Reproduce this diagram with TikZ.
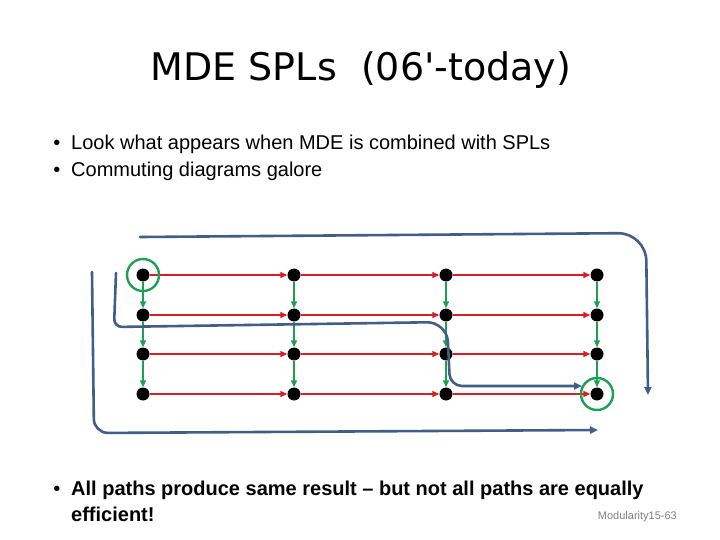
\documentclass[tikz,border=0pt]{standalone}
\usepackage{fontspec}
\setmainfont{Liberation Sans}
\newfontfamily\titlefont{DejaVu Sans}
\usetikzlibrary{arrows.meta}
\definecolor{routeblue}{RGB}{64,94,134}
\definecolor{arrowred}{RGB}{214,30,36}
\definecolor{arrowgreen}{RGB}{30,160,84}

\begin{document}
\begin{tikzpicture}[x=1pt,y=-1pt,
    dot/.style={circle,fill=black,inner sep=0pt,minimum size=13pt},
    redarrow/.style={draw=arrowred,line width=1.4pt,-{Triangle[length=7pt,width=6pt]}},
    greenarrow/.style={draw=arrowgreen,line width=1.6pt,-{Triangle[length=7pt,width=6pt]}},
    ring/.style={circle,draw=arrowgreen,line width=2.4pt,minimum size=32pt,inner sep=0pt},
    route/.style={draw=routeblue,line width=2.6pt,line cap=round,-{Triangle[length=8pt,width=7pt]}},
    txt/.style={anchor=base west,inner sep=0pt,font=\fontsize{20}{24}\selectfont}]
    \useasboundingbox (0,0) rectangle (720,540);
    % Overskrift og punkter
    \node[anchor=base,inner sep=0pt,font=\titlefont\fontsize{38}{44}\selectfont] (title) at (361,81) {MDE SPLs\ \ (06'-today)};
    \node[txt] (b1) at (71,150) {Look what appears when MDE is combined with SPLs};
    \node[txt] (b2) at (71,177) {Commuting diagrams galore};
    \node[txt,font=\fontsize{20}{24}\selectfont\bfseries] (b3) at (71,495) {All paths produce same result -- but not all paths are equally};
    \node[txt,font=\fontsize{20}{24}\selectfont\bfseries] (b4) at (71,521) {efficient!};
    \foreach \b in {b1,b2,b3}
      \node[anchor=base,inner sep=0pt,font=\fontsize{20}{24}\selectfont] at ([xshift=-14pt]\b.base west) {\textbullet};
    \node[anchor=base east,inner sep=0pt,text=gray,font=\fontsize{11}{12}\selectfont] (foot) at (677,519) {Modularity15-63};
    % Gitter af punkter
    \foreach \r/\y in {1/275,2/315,3/354,4/394}
      \foreach \c/\x in {1/143,2/294,3/446,4/597}
        \node[dot] (d\r\c) at (\x,\y) {};
    % Vandrette (røde) og lodrette (grønne) pile
    \foreach \r in {1,...,4}
      \foreach \c/\n in {1/2,2/3,3/4}
        \draw[redarrow] (d\r\c) -- (d\r\n);
    \foreach \c in {1,...,4}
      \foreach \r/\n in {1/2,2/3,3/4}
        \draw[greenarrow] (d\r\c) -- (d\n\c);
    % Start- og slutpunkt
    \node[ring] (src) at (d11) {};
    \node[ring] (dst) at (d44) {};
    % Tre veje gennem diagrammet
    \coordinate (top-s) at (140,237);
    \coordinate (top-e) at (648,395);
    \coordinate (mid-s) at (116,273);
    \coordinate (mid-e) at (582,386);
    \coordinate (low-s) at (92,272);
    \coordinate (low-e) at (598,430);
    \draw[route,rounded corners=28pt] (top-s) -- (646,233) -- (top-e);
    \draw[route] (mid-s) [rounded corners=8pt] -- (114,327) [rounded corners=20pt] -- (447,322) [rounded corners=12pt] -- (450,386) -- (mid-e);
    \draw[route,rounded corners=14pt] (low-s) -- (94,433) -- (low-e);
  \end{tikzpicture}
\end{document}
